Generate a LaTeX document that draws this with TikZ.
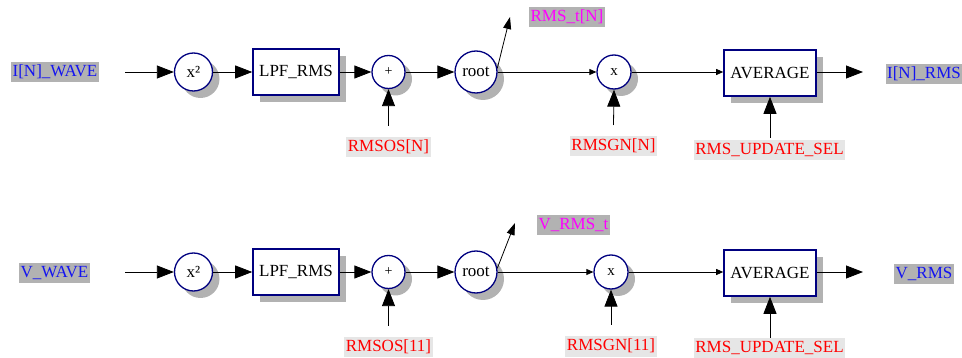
\documentclass[tikz,border=0pt]{standalone}
\usepackage{fontspec}
\setmainfont{Liberation Serif}
\usetikzlibrary{arrows.meta,shadows}
\definecolor{navy}{RGB}{0,0,128}
\definecolor{shadowgray}{RGB}{178,178,178}
\definecolor{labgray}{RGB}{178,178,178}
\definecolor{lightlab}{RGB}{230,230,230}
\definecolor{bluetxt}{RGB}{20,20,240}
\definecolor{magtxt}{RGB}{255,0,255}
\definecolor{redtxt}{RGB}{255,0,0}
\begin{document}
\begin{tikzpicture}[x=1pt,y=-1pt,
  every node/.style={font=\fontsize{17}{20}\selectfont},
  sh/.style={drop shadow={shadow xshift=7pt,shadow yshift=-7pt,fill=shadowgray,opacity=1}},
  opcirc/.style={circle,draw=navy,line width=1.3pt,fill=white,inner sep=0pt,sh},
  opbox/.style={rectangle,draw=navy,line width=1.6pt,fill=white,inner sep=0pt,sh},
  inlab/.style={fill=labgray,text=bluetxt,inner sep=1.5pt,text height=13pt,text depth=4pt},
  taplab/.style={fill=labgray,text=magtxt,inner sep=1.5pt,text height=13pt,text depth=4pt},
  reglab/.style={fill=lightlab,text=redtxt,inner sep=1.5pt,text height=13pt,text depth=4pt},
  big/.style={-{Triangle[length=17pt,width=13pt]},line width=0.8pt},
  small/.style={-{Triangle[length=7pt,width=6pt]},line width=0.8pt},
  mid/.style={-{Triangle[length=12pt,width=8pt]},line width=0.8pt}]
\useasboundingbox (0,0) rectangle (962,358);

% ---------- top row ----------
\node[inlab] (inI) at (55,72.5) {I[N]\_WAVE};
\coordinate (inI0) at (125,72);
\node[opcirc,minimum size=38pt] (sq1) at (193.5,72) {x²};
\node[opbox,minimum width=86pt,minimum height=46pt] (lpf1) at (296,72) {LPF\_RMS};
\node[opcirc,minimum size=33pt,font=\fontsize{14}{16}\selectfont] (add1) at (388.5,72) {+};
\node[opcirc,minimum size=42pt] (root1) at (476,72) {root};
\node[opcirc,minimum size=34pt,font=\fontsize{15}{17}\selectfont] (mul1) at (614,72) {x};
\node[opbox,minimum width=92pt,minimum height=46pt] (avg1) at (770,73) {AVERAGE};
\coordinate (out1) at (863,72);
\node[inlab] (outI) at (924,74) {I[N]\_RMS};
\node[taplab] (tI) at (567,17) {RMS\_t[N]};
\coordinate (tip1) at (510,17);
\node[reglab] (os1) at (388.5,147) {RMSOS[N]};
\coordinate (os1s) at (388.5,126);
\node[reglab] (gn1) at (613.5,146.5) {RMSGN[N]};
\coordinate (gn1s) at (613.5,125);
\node[reglab] (us1) at (769.5,150) {RMS\_UPDATE\_SEL};
\coordinate (us1s) at (770,138);

\draw[big] (inI0) -- (sq1);
\draw[big] (sq1) -- (lpf1);
\draw[big] (lpf1) -- (add1);
\draw[big] (add1) -- (root1);
\draw[small] (root1.east) -- (mul1);
\draw[small] (mul1) -- (avg1.west |- mul1);
\draw[big] (avg1.east |- out1) -- (out1);
\draw[mid] (root1.10) -- (tip1);
\draw[big] (os1s) -- (add1.south);
\draw[big] (gn1s) -- (mul1.south);
\draw[big] (us1s) -- (avg1.south);

% ---------- bottom row ----------
\node[inlab] (inV) at (54.5,273) {V\_WAVE};
\coordinate (inV0) at (125,272);
\node[opcirc,minimum size=38pt] (sq2) at (193.5,272) {x²};
\node[opbox,minimum width=86pt,minimum height=46pt] (lpf2) at (296,272) {LPF\_RMS};
\node[opcirc,minimum size=33pt,font=\fontsize{14}{16}\selectfont] (add2) at (388.5,272) {+};
\node[opcirc,minimum size=42pt] (root2) at (476,272) {root};
\node[opcirc,minimum size=34pt,font=\fontsize{15}{17}\selectfont] (mul2) at (611,272) {x};
\node[opbox,minimum width=92pt,minimum height=46pt] (avg2) at (770,273) {AVERAGE};
\coordinate (out2) at (863,272);
\node[inlab] (outV) at (924,274.5) {V\_RMS};
\node[taplab] (tV) at (573.5,225) {V\_RMS\_t};
\coordinate (tip2) at (515,223);
\node[reglab] (os2) at (388.5,347) {RMSOS[11]};
\coordinate (os2s) at (388.5,326);
\node[reglab] (gn2) at (611,346.5) {RMSGN[11]};
\coordinate (gn2s) at (611,325);
\node[reglab] (us2) at (769.5,348) {RMS\_UPDATE\_SEL};
\coordinate (us2s) at (770,338);

\draw[big] (inV0) -- (sq2);
\draw[big] (sq2) -- (lpf2);
\draw[big] (lpf2) -- (add2);
\draw[big] (add2) -- (root2);
\draw[small] (root2.east) -- (mul2);
\draw[small] (mul2) -- (avg2.west |- mul2);
\draw[big] (avg2.east |- out2) -- (out2);
\draw[mid] (root2.10) -- (tip2);
\draw[big] (os2s) -- (add2.south);
\draw[big] (gn2s) -- (mul2.south);
\draw[big] (us2s) -- (avg2.south);
\end{tikzpicture}
\end{document}
